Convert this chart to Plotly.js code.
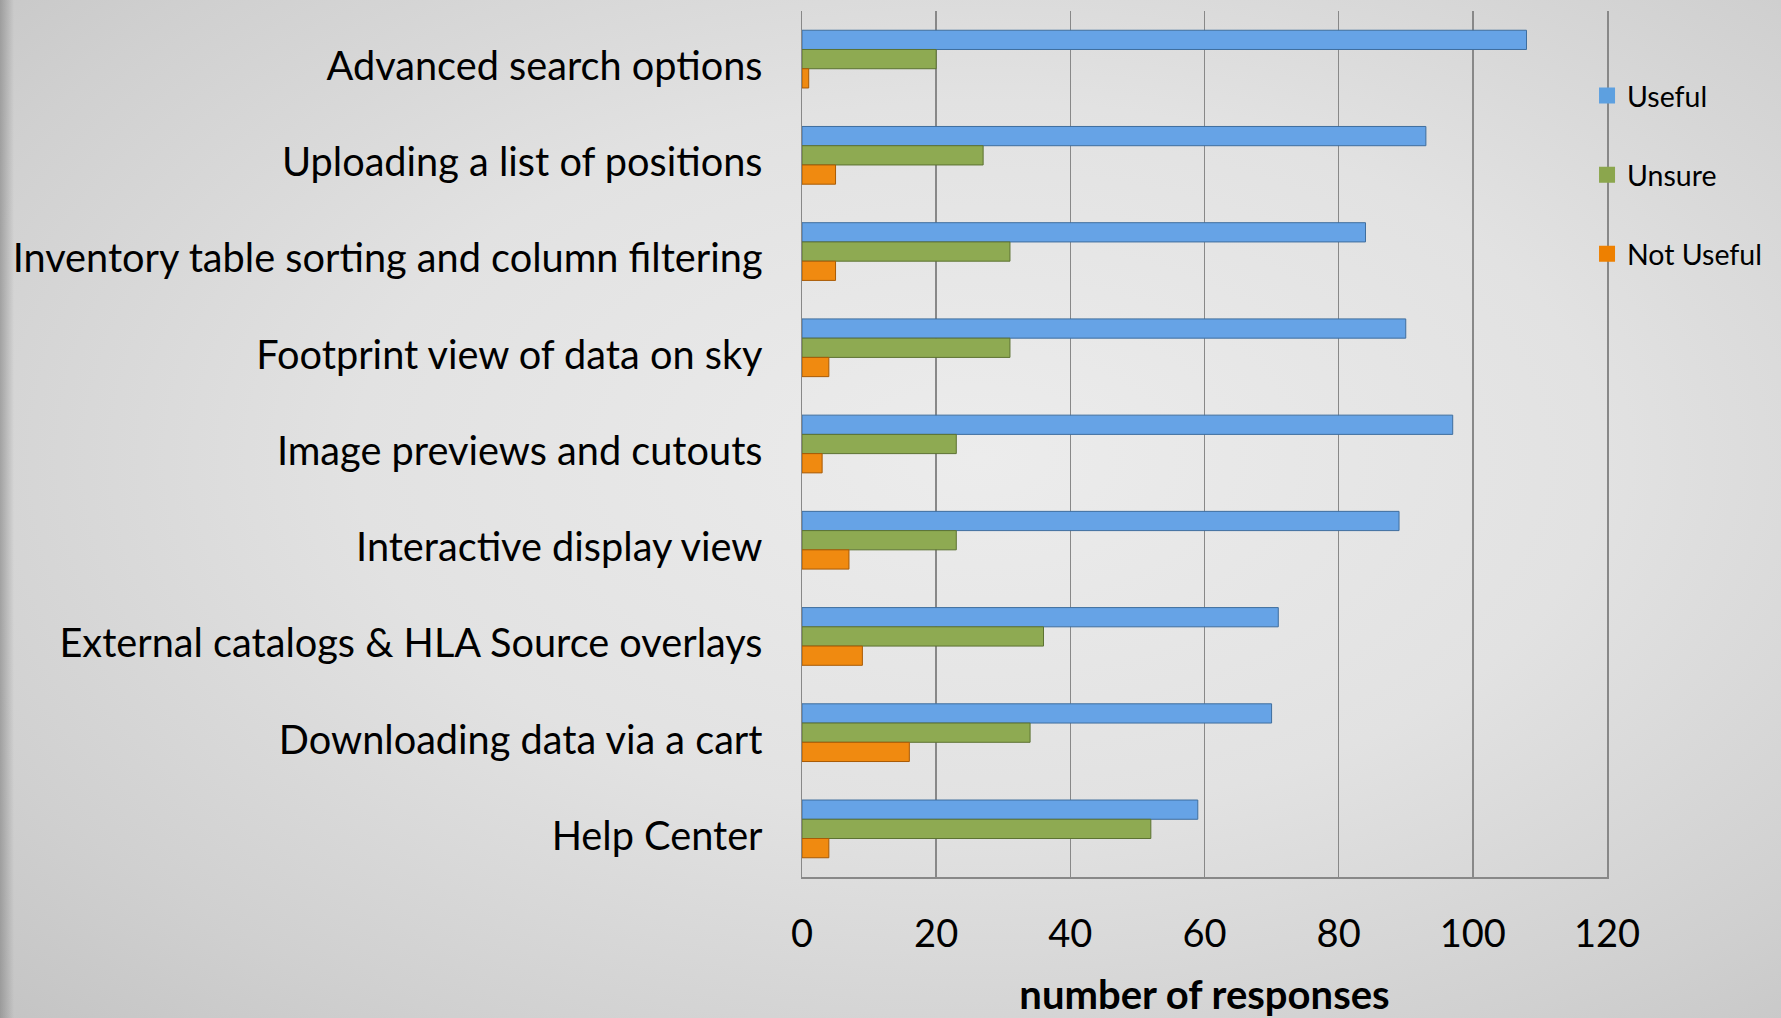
<!DOCTYPE html>
<html>
<head>
<meta charset="utf-8">
<script src="https://cdn.plot.ly/plotly-3.0.1.min.js"></script>
<style>
  html, body { margin: 0; padding: 0; width: 1781px; height: 1018px; overflow: hidden; }
  body {
    background:
      linear-gradient(to right, rgba(120,120,120,0.55) 0px, rgba(120,120,120,0) 14px),
      radial-gradient(ellipse at 55% 45%, #ececec 0%, #e2e2e2 45%, #d0d0d0 80%, #c4c4c4 100%);
  }
  #chart { width: 1781px; height: 1018px; }
</style>
</head>
<body>
<div id="chart"></div>
<script>
const categories = [
  "Advanced search options",
  "Uploading a list of positions",
  "Inventory table sorting and column filtering",
  "Footprint view of data on sky",
  "Image previews and cutouts",
  "Interactive display view",
  "External catalogs & HLA Source overlays",
  "Downloading data via a cart",
  "Help Center"
];
const useful    = [108, 93, 84, 90, 97, 89, 71, 70, 59];
const unsure    = [20, 27, 31, 31, 23, 23, 36, 34, 52];
const notUseful = [1, 5, 5, 4, 3, 7, 9, 16, 4];
const seriesNames = ["Useful", "Unsure", "Not Useful"];
const tickVals = [0, 20, 40, 60, 80, 100, 120];

const FONT = "Lato, 'Open Sans', sans-serif";
const fills = ["#66a3e6", "#8eaa52", "#f08a10"];
const edges = ["#3f6e9e", "#5c7232", "#a85a05"];
const swatch = ["#5da0e0", "#8ba64d", "#ee8000"];
const seriesVals = [useful, unsure, notUseful];

const data = [];
seriesVals.forEach((vals, i) => {
  data.push({
    type: "bar",
    orientation: "h",
    name: seriesNames[i],
    y: categories,
    x: vals,
    showlegend: false,
    marker: { color: fills[i], line: { color: edges[i], width: 1 } },
    hoverinfo: "x+name"
  });
});
// legend entries (square swatches like the original)
seriesNames.forEach((n, i) => {
  data.push({
    type: "scatter",
    mode: "markers",
    name: n,
    x: [null],
    y: [null],
    legendgroup: n,
    showlegend: true,
    marker: { symbol: "square", size: 16, color: swatch[i] },
    hoverinfo: "skip"
  });
});

const layout = {
  width: 1781,
  height: 1018,
  paper_bgcolor: "rgba(0,0,0,0)",
  plot_bgcolor: "rgba(0,0,0,0)",
  margin: { l: 802, r: 174, t: 11, b: 141, pad: 0 },
  barmode: "group",
  bargap: 0.4,
  bargroupgap: 0,
  font: { family: FONT, color: "#000000" },
  showlegend: true,
  legend: {
    xref: "paper", yref: "paper",
    x: 0.9752, xanchor: "left",
    y: 0.9312, yanchor: "top",
    traceorder: "grouped",
    tracegroupgap: 39,
    font: { family: FONT, size: 28.5, color: "#000000" },
    bgcolor: "rgba(0,0,0,0)",
    borderwidth: 0,
    itemwidth: 30
  },
  xaxis: {
    range: [0, 120],
    tickvals: tickVals,
    ticktext: tickVals.map(String),
    showgrid: true,
    gridcolor: "#888888",
    gridwidth: 1.5,
    zeroline: false,
    showline: true,
    linecolor: "#888888",
    linewidth: 1.5,
    mirror: false,
    ticks: "outside",
    ticklen: 23,
    tickcolor: "rgba(0,0,0,0)",
    tickfont: { family: FONT, size: 38, color: "#000000" },
    title: {
      text: "<b>number of responses</b>",
      font: { family: FONT, size: 40, color: "#000000" },
      standoff: 29
    },
    automargin: false,
    fixedrange: true
  },
  yaxis: {
    type: "category",
    autorange: "reversed",
    showgrid: false,
    zeroline: false,
    showline: true,
    mirror: true,
    linecolor: "#888888",
    linewidth: 1.5,
    ticks: "",
    ticklabelstandoff: 30,
    ticklabelshift: -7,
    tickfont: { family: FONT, size: 39.7, color: "#000000" },
    automargin: false,
    fixedrange: true
  }
};

Plotly.newPlot("chart", data, layout, { displayModeBar: false, staticPlot: true });
</script>
</body>
</html>
